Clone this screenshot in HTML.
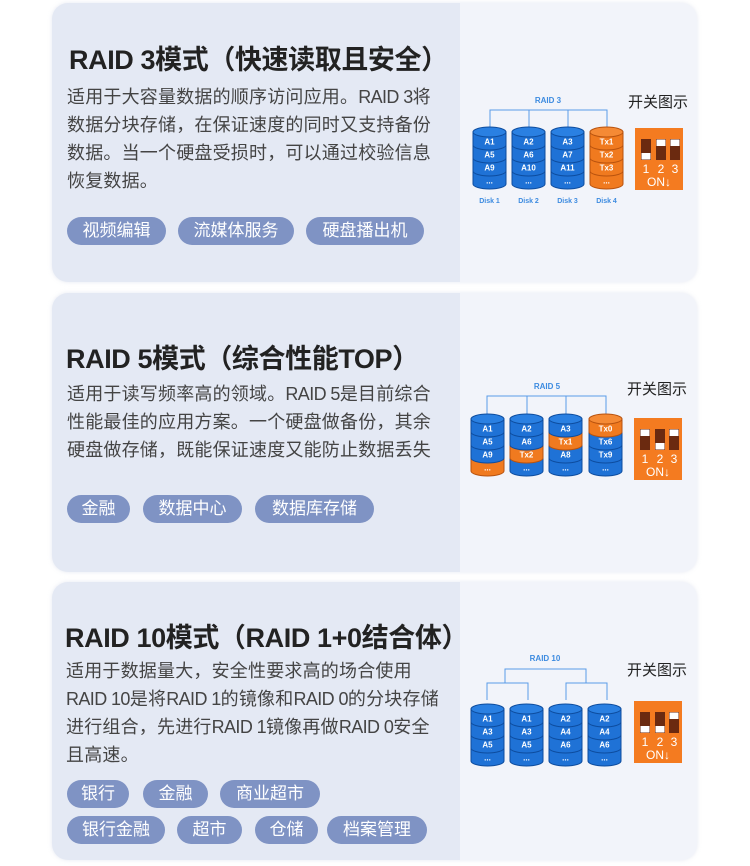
<!DOCTYPE html>
<html><head><meta charset="utf-8">
<style>
*{margin:0;padding:0;box-sizing:border-box}
body{width:750px;height:866px;background:#fff;position:relative;overflow:hidden;font-family:"Liberation Sans","Noto Sans CJK SC",sans-serif}
.card{position:absolute;left:52px;width:645px;border-radius:16px;overflow:hidden;background:#f2f4fa;box-shadow:0 0 4px rgba(180,190,215,.35)}
.card .l{position:absolute;left:0;top:0;bottom:0;width:408px;background:#e4e9f4}
.t{position:absolute;white-space:nowrap;color:#222;}
.title{font-size:27px;font-weight:bold;letter-spacing:-0.4px}
.body{font-size:18px;color:#444;line-height:28px;letter-spacing:0.2px}
.body i{font-style:normal;letter-spacing:-0.6px}
.tag{position:absolute;height:28px;border-radius:14px;background:#7f93c4;color:#fff;font-size:17px;line-height:28px;text-align:center}
svg{position:absolute;left:0;top:0}
</style></head><body>
<div class="card" style="top:3px;height:279px"><div class="l"></div></div>
<div class="card" style="top:293px;height:279px"><div class="l"></div></div>
<div class="card" style="top:582px;height:278px"><div class="l"></div></div>

<div class="t title" style="left:69px;top:38px">RAID 3模式（快速读取且安全）</div>
<div class="t body" style="left:67px;top:83px">适用于大容量数据的顺序访问应用。<i>RAID 3</i>将<br>数据分块存储，在保证速度的同时又支持备份<br>数据。当一个硬盘受损时，可以通过校验信息<br>恢复数据。</div>
<div class="tag" style="left:67px;top:217px;width:99px">视频编辑</div>
<div class="tag" style="left:178px;top:217px;width:116px">流媒体服务</div>
<div class="tag" style="left:306px;top:217px;width:118px">硬盘播出机</div>

<div class="t title" style="left:66px;top:337px">RAID 5模式（综合性能TOP）</div>
<div class="t body" style="left:67px;top:380px">适用于读写频率高的领域。<i>RAID 5</i>是目前综合<br>性能最佳的应用方案。一个硬盘做备份，其余<br>硬盘做存储，既能保证速度又能防止数据丢失</div>
<div class="tag" style="left:67px;top:495px;width:63px">金融</div>
<div class="tag" style="left:143px;top:495px;width:99px">数据中心</div>
<div class="tag" style="left:255px;top:495px;width:119px">数据库存储</div>

<div class="t title" style="left:65px;top:616px">RAID 10模式（RAID 1+0结合体）</div>
<div class="t body" style="left:66px;top:657px">适用于数据量大，安全性要求高的场合使用<br><i>RAID 10</i>是将<i>RAID 1</i>的镜像和<i>RAID 0</i>的分块存储<br>进行组合，先进行<i>RAID 1</i>镜像再做<i>RAID 0</i>安全<br>且高速。</div>
<div class="tag" style="left:67px;top:780px;width:62px">银行</div>
<div class="tag" style="left:143px;top:780px;width:65px">金融</div>
<div class="tag" style="left:220px;top:780px;width:100px">商业超市</div>
<div class="tag" style="left:67px;top:816px;width:98px">银行金融</div>
<div class="tag" style="left:177px;top:816px;width:65px">超市</div>
<div class="tag" style="left:255px;top:816px;width:63px">仓储</div>
<div class="tag" style="left:327px;top:816px;width:100px">档案管理</div>

<svg id="s" width="750" height="866" xmlns="http://www.w3.org/2000/svg" font-family="Liberation Sans, Noto Sans CJK SC, sans-serif"></svg>
<script>
var s=document.getElementById('s'),h='';
var B='#1f72d6',BD='#0d4c9e',O='#f07a1f',OD='#b8520e';
function disk(x,y,labels,cols,lab){
 var w=33,r=w/2,cy=y+5,bh=13;
 for(var i=3;i>=0;i--){var t=cy+bh*i,b=t+bh,c=cols[i]=='o'?O:B,d=cols[i]=='o'?OD:BD;
  h+='<path d="M'+x+' '+t+'L'+x+' '+b+'A'+r+' 5 0 0 0 '+(x+w)+' '+b+'L'+(x+w)+' '+t+'Z" fill="'+c+'" stroke="'+d+'" stroke-width="1"/>';
  h+='<text x="'+(x+r)+'" y="'+(t+bh/2+6)+'" fill="#fff" font-size="8" font-weight="bold" text-anchor="middle">'+labels[i]+'</text>';}
 var tc=cols[0]=='o'?'#f58a35':'#2a80e2',td=cols[0]=='o'?OD:BD;
 h+='<ellipse cx="'+(x+r)+'" cy="'+cy+'" rx="'+r+'" ry="5" fill="'+tc+'" stroke="'+td+'" stroke-width="1"/>';
 if(lab)h+='<text x="'+(x+r)+'" y="'+(y+76)+'" fill="#3d8be0" font-size="7" font-weight="bold" text-anchor="middle">'+lab+'</text>';
}
function sw2(x,y,st,ty){
 h+='<text x="'+(x-7)+'" y="'+ty+'" fill="#222" font-size="15">开关图示</text>';
 h+='<rect x="'+x+'" y="'+y+'" width="48" height="62" fill="#f47b20"/>';
 var xs=[6,21,35];
 for(var i=0;i<3;i++){var sx=x+xs[i],sy=y+11;
  h+='<rect x="'+sx+'" y="'+sy+'" width="10" height="21" fill="#6b2a10"/>';
  h+='<rect x="'+(sx+0.5)+'" y="'+(st[i]?sy+14:sy+0.5)+'" width="9" height="6.5" fill="#fff"/>';
  h+='<text x="'+(sx+5)+'" y="'+(y+45)+'" fill="#fff" font-size="12" text-anchor="middle">'+(i+1)+'</text>';}
 h+='<text x="'+(x+24)+'" y="'+(y+58)+'" fill="#fff" font-size="12" text-anchor="middle">ON↓</text>';
}
var L='stroke="#5a9be8" stroke-width="1" fill="none"';
h+='<text x="548" y="103" fill="#3d8be0" font-size="8" font-weight="bold" text-anchor="middle">RAID 3</text>';
h+='<path d="M490 128V110H607V128M529 110V128M568 110V128" '+L+'/>';
disk(473,127,['A1','A5','A9','...'],'bbbb','Disk 1');
disk(512,127,['A2','A6','A10','...'],'bbbb','Disk 2');
disk(551,127,['A3','A7','A11','...'],'bbbb','Disk 3');
disk(590,127,['Tx1','Tx2','Tx3','...'],'oooo','Disk 4');
sw2(635,128,[1,0,0],107);
h+='<text x="547" y="389" fill="#3d8be0" font-size="8" font-weight="bold" text-anchor="middle">RAID 5</text>';
h+='<path d="M487 414V396H606V414M527 396V414M566 396V414" '+L+'/>';
disk(471,414,['A1','A5','A9','...'],'bbbo','');
disk(510,414,['A2','A6','Tx2','...'],'bbob','');
disk(549,414,['A3','Tx1','A8','...'],'bobb','');
disk(589,414,['Tx0','Tx6','Tx9','...'],'obbb','');
sw2(634,418,[0,1,0],394);
h+='<text x="545" y="661" fill="#3d8be0" font-size="8" font-weight="bold" text-anchor="middle">RAID 10</text>';
h+='<path d="M505 683V669H586V683M487 700V683H528V700M566 700V683H607V700" '+L+'/>';
disk(471,704,['A1','A3','A5','...'],'bbbb','');
disk(510,704,['A1','A3','A5','...'],'bbbb','');
disk(549,704,['A2','A4','A6','...'],'bbbb','');
disk(588,704,['A2','A4','A6','...'],'bbbb','');
sw2(634,701,[1,1,0],675);
s.innerHTML=h;
</script>
</body></html>
